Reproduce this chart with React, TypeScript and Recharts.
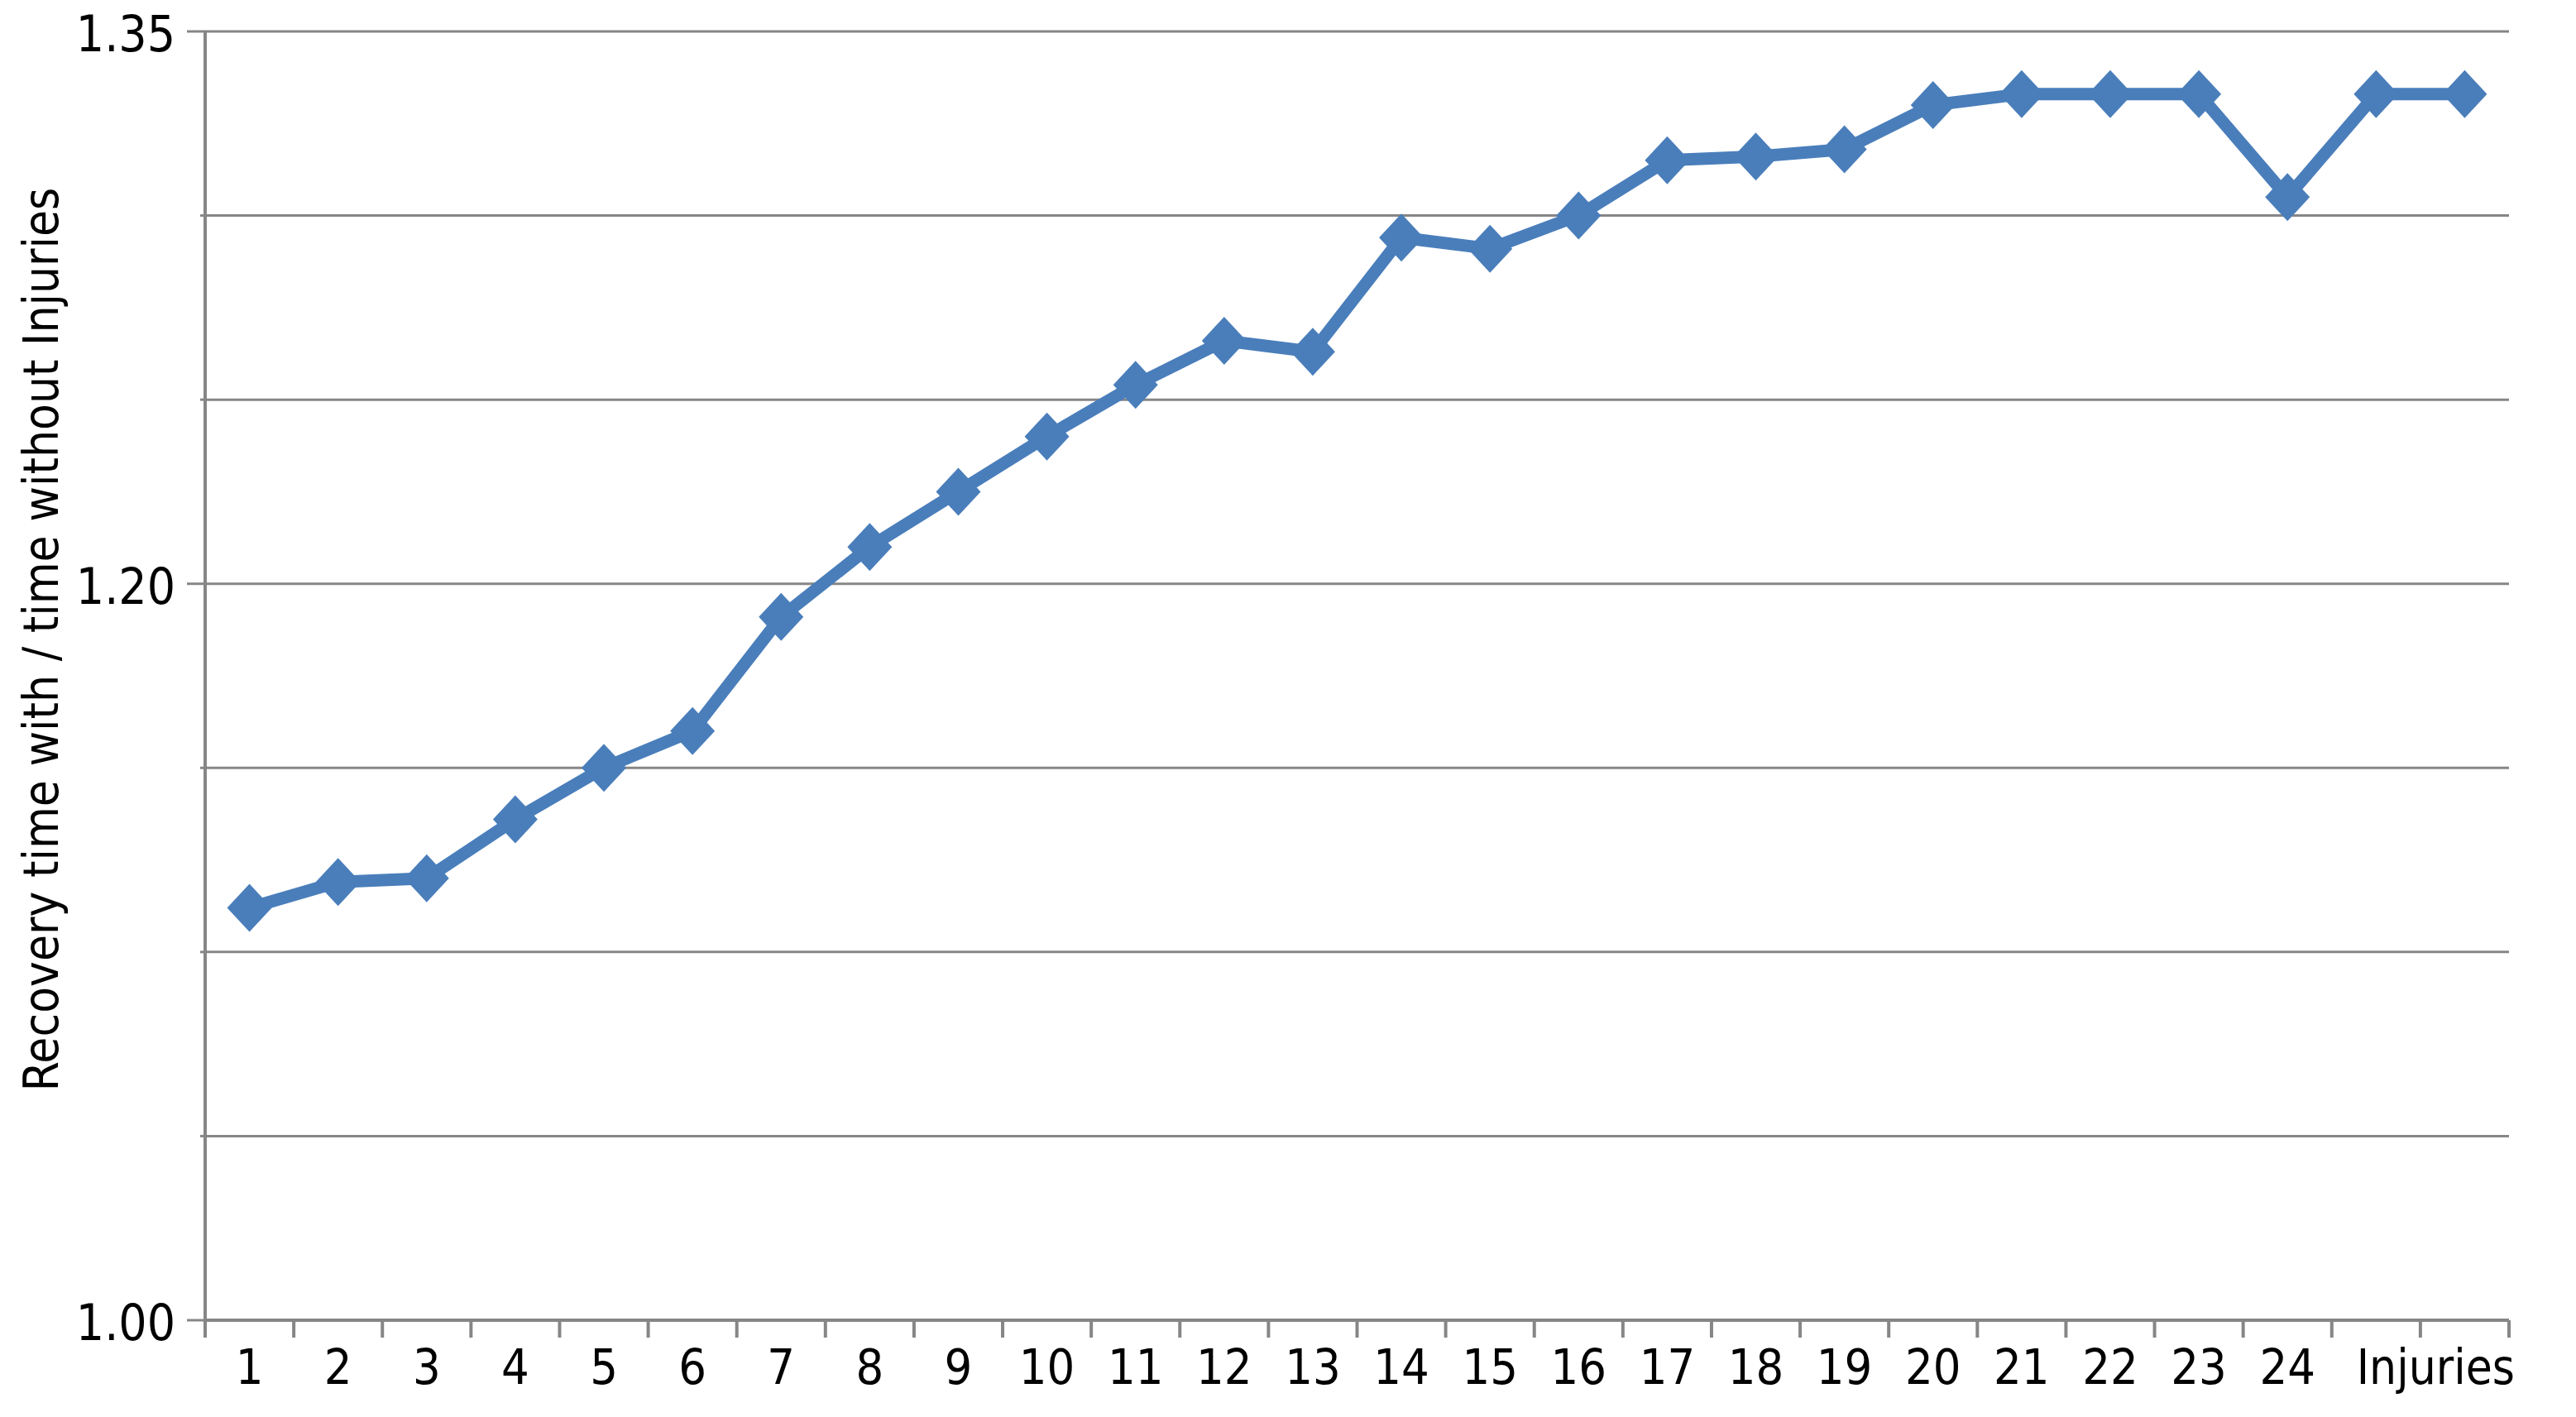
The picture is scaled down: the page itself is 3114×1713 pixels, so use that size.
import React from 'react'
import { CartesianGrid, Label, Line, LineChart, XAxis, YAxis } from 'recharts'

// injuries count along the x axis (last two points have no number under them)
const injuryLabels = [
    '1', '2', '3', '4', '5', '6', '7', '8', '9', '10', '11', '12', '13',
    '14', '15', '16', '17', '18', '19', '20', '21', '22', '23', '24', '', '',
]

// recovery time with / without injuries
const ratios = [
    1.112, 1.119, 1.120, 1.136, 1.150, 1.160, 1.191, 1.210, 1.225, 1.240, 1.254, 1.266, 1.263,
    1.294, 1.291, 1.300, 1.315, 1.316, 1.318, 1.330, 1.333, 1.333, 1.333, 1.305, 1.333, 1.333,
]

const yTicks = [1.0, 1.05, 1.1, 1.15, 1.2, 1.25, 1.3, 1.35]
const yLabelled = [1.0, 1.2, 1.35]

const data = injuryLabels.map((name, i) => ({ name, ratio: ratios[i] }))

const WIDTH = 3098
const HEIGHT = 1708
const MARGIN = { top: 38, right: 73, bottom: 12, left: 0 }
const Y_WIDTH = 240
const PLOT_W = WIDTH - MARGIN.left - MARGIN.right - Y_WIDTH
const STEP = PLOT_W / data.length

const FONT = "'DejaVu Sans Condensed', 'DejaVu Sans', sans-serif"
const AXIS = '#868686'
const BLUE = '#4a7ebb'

const XTick = (props: any) => {
    const { x, y, payload, index } = props
    const axisY = y - 29
    const last = index === data.length - 1
    return (
        <g>
            <line x1={x - STEP / 2} x2={x - STEP / 2} y1={axisY} y2={axisY + 21} stroke={AXIS} strokeWidth={4} />
            {last && <line x1={x + STEP / 2} x2={x + STEP / 2} y1={axisY} y2={axisY + 21} stroke={AXIS} strokeWidth={4} />}
            <text x={x} y={axisY + 77} textAnchor="middle" fontSize={59} fontFamily={FONT} fill="#000">
                {payload.value}
            </text>
        </g>
    )
}

const YTick = (props: any) => {
    const { x, y, payload } = props
    const major = yLabelled.some((v) => Math.abs(v - payload.value) < 1e-6)
    const axisX = x + 36
    return (
        <g>
            <line x1={axisX - (major ? 22 : 6)} x2={axisX} y1={y} y2={y} stroke={AXIS} strokeWidth={3} />
            {major && (
                <text x={x} y={y} dy={24} textAnchor="end" fontSize={60} fontFamily={FONT} fill="#000">
                    {payload.value.toFixed(2)}
                </text>
            )}
        </g>
    )
}

const Diamond = (props: any) => {
    const { cx, cy } = props
    if (cx == null || cy == null) return null
    return (
        <polygon
            points={`${cx},${cy - 29} ${cx + 27},${cy} ${cx},${cy + 29} ${cx - 27},${cy}`}
            fill={BLUE}
        />
    )
}

export default function App() {
    return (
        <div style={{ width: WIDTH, height: HEIGHT, marginTop: -8, background: '#fff' }}>
            <LineChart width={WIDTH} height={HEIGHT} data={data} margin={MARGIN}>
                <CartesianGrid vertical={false} stroke={AXIS} strokeWidth={3} />
                <XAxis
                    dataKey="name"
                    padding={{ left: STEP / 2, right: STEP / 2 }}
                    height={100}
                    interval={0}
                    tickSize={21}
                    tickMargin={8}
                    tickLine={false}
                    stroke={AXIS}
                    strokeWidth={4}
                    tick={<XTick />}
                >
                    <Label
                        content={({ viewBox }: any) => (
                            <text
                                x={viewBox.x + viewBox.width + 7}
                                y={viewBox.y + 77}
                                textAnchor="end"
                                fontSize={58}
                                fontFamily={FONT}
                                fill="#000"
                            >
                                Injuries
                            </text>
                        )}
                    />
                </XAxis>
                <YAxis
                    width={Y_WIDTH}
                    domain={[1, 1.35]}
                    ticks={yTicks}
                    interval={0}
                    tickSize={22}
                    tickMargin={14}
                    tickLine={false}
                    stroke={AXIS}
                    strokeWidth={4}
                    tick={<YTick />}
                >
                    <Label
                        content={({ viewBox }: any) => {
                            const cx = viewBox.x + 42
                            const cy = viewBox.y + viewBox.height / 2 - 44
                            return (
                                <text
                                    x={cx}
                                    y={cy}
                                    transform={`rotate(-90 ${cx} ${cy})`}
                                    textAnchor="middle"
                                    dominantBaseline="central"
                                    fontSize={58}
                                    fontFamily={FONT}
                                    fill="#000"
                                >
                                    Recovery time with / time without Injuries
                                </text>
                            )
                        }}
                    />
                </YAxis>
                <Line
                    type="linear"
                    dataKey="ratio"
                    stroke={BLUE}
                    strokeWidth={15}
                    strokeLinejoin="round"
                    dot={<Diamond />}
                    activeDot={false}
                    isAnimationActive={false}
                />
            </LineChart>
        </div>
    )
}
